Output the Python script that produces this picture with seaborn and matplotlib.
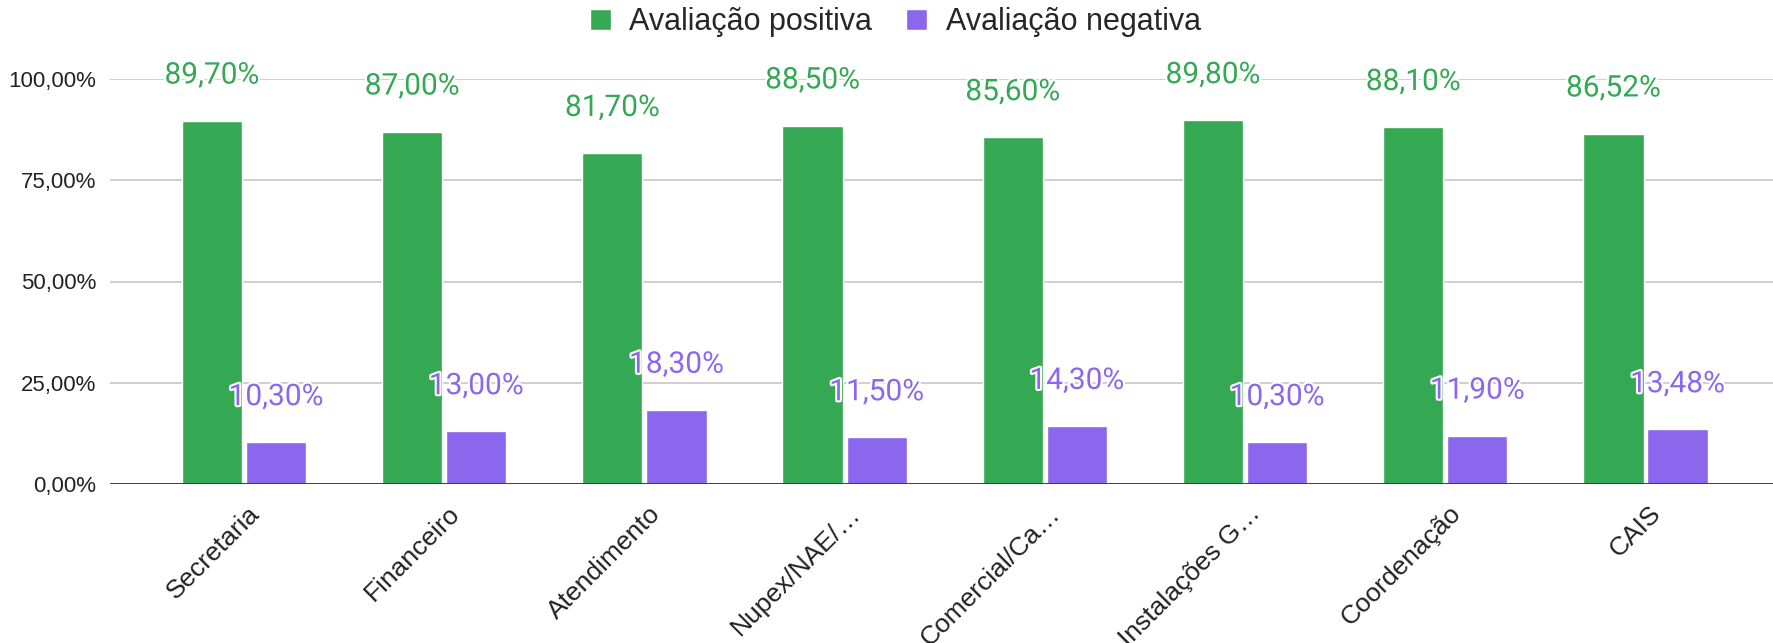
import matplotlib
matplotlib.use("Agg")
import matplotlib.pyplot as plt
import matplotlib.patheffects as pe
import matplotlib.transforms as mtransforms
import pandas as pd
import seaborn as sns

# chart values
setores = ["Secretaria", "Financeiro", "Atendimento", "Nupex/NAE/…",
           "Comercial/Ca…", "Instalações G…", "Coordenação", "CAIS"]
positiva = [89.70, 87.00, 81.70, 88.50, 85.60, 89.80, 88.10, 86.52]
negativa = [10.30, 13.00, 18.30, 11.50, 14.30, 10.30, 11.90, 13.48]
series = ["Avaliação positiva", "Avaliação negativa"]
yticks = [0, 25, 50, 75, 100]

green = "#34a853"
purple = "#8b67ed"

df = pd.DataFrame({
    "setor": setores * 2,
    "serie": [series[0]] * len(setores) + [series[1]] * len(setores),
    "valor": positiva + negativa,
})

def pct(v):
    return f"{v:.2f}%".replace(".", ",")

sns.set_style("white")
plt.rcParams["font.family"] = ["Liberation Sans", "DejaVu Sans"]

fig = plt.figure(figsize=(17.73, 6.43), dpi=100)
ax = fig.add_axes([110 / 1773, 159 / 643, 1 - 110 / 1773, (484 - 79) / 643])

sns.barplot(data=df, x="setor", y="valor", hue="serie", palette=[green, purple],
            width=0.64, gap=0.06, saturation=1, ax=ax)

ax.set_ylim(0, 100)
ax.set_xlim(-0.669, 7.637)
ax.set_yticks(yticks)
ax.set_yticklabels([pct(v) for v in yticks], fontsize=16, color="#222222")
ax.yaxis.grid(True, color="#cccccc", linewidth=1.3)
ax.set_axisbelow(True)
ax.axhline(0, color="#333333", linewidth=2, zorder=3)
for s in ax.spines.values():
    s.set_visible(False)
ax.tick_params(axis="both", length=0)
ax.tick_params(axis="y", pad=10)
ax.set_xlabel("")
ax.set_ylabel("")

# rotated category labels (the long ones run off the bottom, as in the original)
ax.set_xticks(range(len(setores)))
ax.set_xticklabels(setores, rotation=45, ha="right", va="center",
                   rotation_mode="anchor", fontsize=19, color="#222222")
offset = mtransforms.ScaledTranslation(12 / 100, -21 / 100, fig.dpi_scale_trans)
for lbl in ax.get_xticklabels():
    lbl.set_transform(lbl.get_transform() + offset)

# data labels above each bar
for cont, color in zip(ax.containers, [green, purple]):
    for p in cont:
        ax.annotate(pct(p.get_height()), (p.get_x() + p.get_width() / 2, p.get_height()),
                    xytext=(0, 32.5), textcoords="offset points", ha="center", va="center",
                    fontsize=21.5, color=color, family=["Roboto", "DejaVu Sans"],
                    annotation_clip=False,
                    path_effects=[pe.withStroke(linewidth=3, foreground="white")])

handles, labels = ax.get_legend_handles_labels()
ax.legend_.remove()
fig.legend(handles, labels, loc="center", bbox_to_anchor=(0.505, 1 - 22 / 643), ncol=2,
           frameon=False, fontsize=22, handlelength=0.7, handleheight=0.7,
           handletextpad=0.6, columnspacing=1.1)

fig.savefig("out.png", dpi=100)
